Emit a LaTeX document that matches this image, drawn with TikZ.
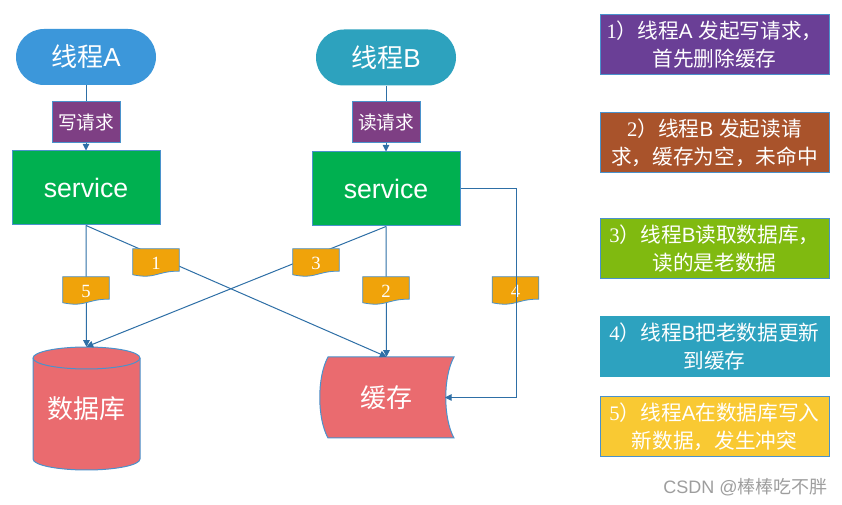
\documentclass[tikz,border=0pt]{standalone}
\usepackage{fontspec}
\setmainfont{Liberation Sans}
\newfontfamily\cjk{Noto Sans CJK SC}
\newfontfamily\serifnum{Liberation Serif}
\usetikzlibrary{arrows.meta,calc}
\definecolor{cA}{HTML}{3C97DA}
\definecolor{cB}{HTML}{2DA2BE}
\definecolor{reqc}{HTML}{7E3F84}
\definecolor{svcc}{HTML}{00B050}
\definecolor{bordc}{HTML}{4A92CC}
\definecolor{linec}{HTML}{2E6FA6}
\definecolor{orangec}{HTML}{F0A30A}
\definecolor{redc}{HTML}{EA6B6F}
\definecolor{b1c}{HTML}{6A3F96}
\definecolor{b2c}{HTML}{A9532B}
\definecolor{b3c}{HTML}{80BA10}
\definecolor{b4c}{HTML}{2DA2BF}
\definecolor{b5c}{HTML}{F9C933}
\newcommand\docl[3]{%
  \node[docbase] (#1) at #2 {};
  \filldraw[docfill] (#1.north west) -- (#1.north east) -- ($(#1.north east)+(0,22.4)$)
    .. controls ($(#1.north)+(0,22.4)$) and ($(#1.north)+(0,30.8)$) .. ($(#1.north west)+(0,26)$) -- cycle;
  \node[doctext] (#1t) at (#1.center) {#3};
}
\begin{document}
\begin{tikzpicture}[x=0.75pt,y=-0.75pt,
  thread/.style={rectangle, rounded corners=21pt, minimum width=105pt, minimum height=42pt, inner sep=0pt, text=white, font=\fontsize{19.5}{22}\selectfont},
  req/.style={rectangle, fill=reqc, draw=bordc, line width=0.75pt, minimum width=51pt, minimum height=30.75pt, inner sep=0pt, text=white, font=\fontsize{14}{16}\selectfont\cjk},
  svc/.style={rectangle, fill=svcc, draw=bordc, line width=0.75pt, minimum width=111pt, minimum height=55.5pt, inner sep=0pt, text=white, font=\fontsize{20}{22}\selectfont},
  ln/.style={draw=linec, line width=0.75pt},
  arr/.style={ln, -{Triangle[length=5pt,width=5pt]}},
  docbase/.style={rectangle, minimum width=34.5pt, minimum height=21pt, inner sep=0pt},
  docfill/.style={fill=orangec, draw=bordc, line width=0.6pt},
  doctext/.style={text=white, inner sep=0pt, font=\fontsize{14}{16}\selectfont\serifnum},
  shapelab/.style={rectangle, inner sep=0pt, text=white, font=\fontsize{19.5}{22}\selectfont\cjk},
  rbox/.style={rectangle, draw=bordc, line width=0.75pt, minimum width=171.75pt, minimum height=45pt, inner sep=0pt, align=center, text=white, font=\fontsize{15.5}{21}\selectfont}
]
\useasboundingbox (0,0) rectangle (842,505);
\fill[white] (0,0) rectangle (842,505);

% threads
\node[thread, fill=cA] (tA) at (86,57) {{\cjk 线程}A};
\node[thread, fill=cB] (tB) at (386,57.5) {{\cjk 线程}B};
\node[req] (rA) at (86,122.5) {写请求};
\node[req] (rB) at (386,122.5) {读请求};
\node[svc] (sA) at (86,188) {service};
\node[svc] (sB) at (386,189) {service};
\draw[ln] (tA) -- (rA);
\draw[arr] (rA) -- (sA);
\draw[ln] (tB) -- (rB);
\draw[arr] (rB) -- (sB);

% database cylinder
\filldraw[fill=redc, draw=bordc, line width=0.75pt]
  (33,358) -- (33,459) arc[start angle=180, end angle=360, x radius=40.125pt, y radius=8.25pt]
  -- (140,358) arc[start angle=0, end angle=180, x radius=40.125pt, y radius=8.25pt] -- cycle;
\draw[draw=bordc, line width=0.75pt] (33,358) arc[start angle=180, end angle=360, x radius=40.125pt, y radius=8.25pt];
\node[shapelab, minimum width=80.25pt, minimum height=92.25pt] (db) at (86.5,408.5) {数据库};

% cache
\filldraw[fill=redc, draw=bordc, line width=0.75pt]
  (328,357) -- (454,357) .. controls (443,377) and (443,418) .. (454,438)
  -- (328,438) .. controls (317,418) and (317,377) .. (328,357) -- cycle;
\node[shapelab, minimum width=101.25pt, minimum height=60.75pt] (cache) at (386.5,397.5) {缓存};
\coordinate (cacheIn) at (445,397.5);

% connectors
\draw[arr] (sA.south) -- (db.north);
\draw[arr] (sA.south) -- (cache.north);
\draw[arr] (sB.south) -- (db.north);
\draw[arr] (sB.south) -- (cache.north);

% step labels
\docl{l1}{(156,263)}{1}
\docl{l3}{(316,263)}{3}
\docl{l5}{(86,291)}{5}
\docl{l2}{(386,291)}{2}
\docl{l4}{(515.5,291)}{4}

\draw[arr] (sB.east) -- ++(56,0) |- (cacheIn);

% right side boxes
\node[rbox, fill=b1c] (b1) at (714.5,45) {{\serifnum 1}{\cjk ）线程}A {\cjk 发起写请求，}\\{\cjk 首先删除缓存}};
\node[rbox, fill=b2c] (b2) at (714.5,143) {{\serifnum 2}{\cjk ）线程}B {\cjk 发起读请}\\{\cjk 求，缓存为空，未命中}};
\node[rbox, fill=b3c] (b3) at (714.5,249) {{\serifnum 3}{\cjk ）线程}B{\cjk 读取数据库，}\\{\cjk 读的是老数据}};
\node[rbox, fill=b4c, draw=b4c] (b4) at (714.5,347) {{\serifnum 4}{\cjk ）线程}B{\cjk 把老数据更新}\\{\cjk 到缓存}};
\node[rbox, fill=b5c] (b5) at (714.5,427) {{\serifnum 5}{\cjk ）线程}A{\cjk 在数据库写入}\\{\cjk 新数据，发生冲突}};

\node[anchor=east, inner sep=0pt, text=black!38, font=\fontsize{13.5}{16}\selectfont] (wm) at (828,487) {CSDN @{\cjk 棒棒吃不胖}};
\end{tikzpicture}
\end{document}
